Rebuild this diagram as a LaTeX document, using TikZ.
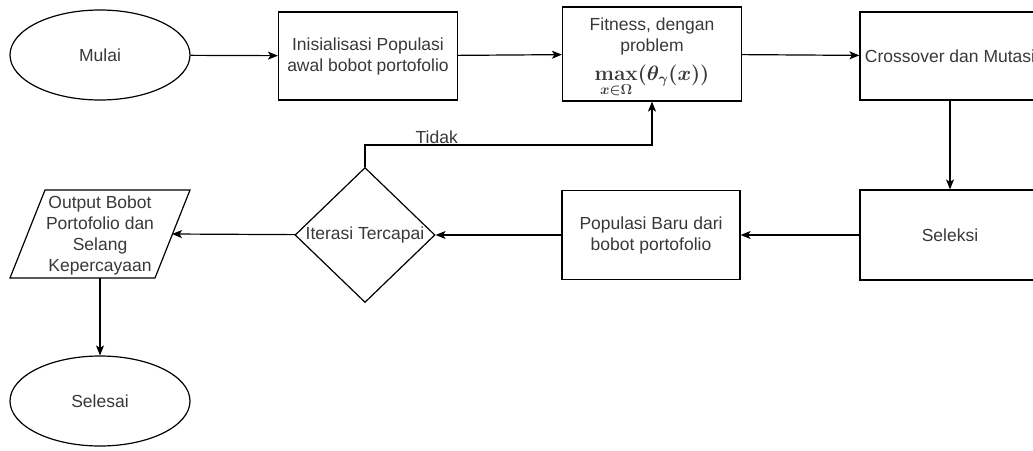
\documentclass[tikz,border=0pt]{standalone}
\usepackage{amsmath}
\usepackage[no-math]{fontspec}
\setmainfont{Liberation Sans}
\usetikzlibrary{shapes.geometric,arrows.meta}

\begin{document}
\begin{tikzpicture}[x=1pt, y=-1pt,
		every node/.style={font=\fontsize{17.5}{21}\selectfont, text=black!78},
		kotak/.style={rectangle, draw, line width=1.2pt, minimum width=179pt, minimum height=88pt, align=center, inner sep=0pt},
		elips/.style={ellipse, draw, line width=1.2pt, minimum width=180pt, minimum height=90pt, inner sep=0pt},
		panah/.style={line width=1.2pt, -{Stealth[length=10pt, width=8pt, inset=2.5pt]}}]
	\useasboundingbox (0, 0) rectangle (1033, 450);

	% ノード
	\node[elips] (mulai) at (100, 55) {Mulai};
	\node[kotak] (init) at (368, 56) {Inisialisasi Populasi\\awal bobot portofolio};
	\node[kotak, minimum height=94pt] (fitness) at (652, 54) {};
	\node[align=center, anchor=north, inner sep=0pt] (fittext) at (652, 18) {Fitness, dengan\\problem\\[8pt]{\fontsize{21}{24}\selectfont\boldmath$\max\limits_{x\in\Omega}(\theta_\gamma(x))$}};
	\node[kotak, minimum width=180pt] (cross) at (950, 56) {Crossover dan Mutasi};
	\node[kotak, minimum width=180pt, minimum height=90pt] (seleksi) at (950, 235) {Seleksi};
	\node[kotak, minimum width=178pt, minimum height=89pt] (popbaru) at (651, 235) {Populasi Baru dari\\bobot portofolio};
	\node[diamond, draw, line width=1.2pt, minimum width=140pt, minimum height=118pt, inner sep=0pt] (iterasi) at (365, 235) {Iterasi Tercapai};
	\node[align=center, inner sep=0pt] (output) at (100, 235) {Output Bobot\\Portofolio dan\\Selang\\Kepercayaan};
	\node[elips] (selesai) at (100, 401) {Selesai};

	% 平行四辺形
	\coordinate (outkanan) at (172, 234);
	\coordinate (outbawah) at (100, 278);
	\draw[line width=1.2pt] (45, 190) -- (190, 190) -- (155, 278) -- (10, 278) -- cycle;

	% 矢印
	\draw[panah] (mulai) -- (init);
	\draw[panah] (init) -- (fitness);
	\draw[panah] (fitness) -- (cross);
	\draw[panah] (cross) -- (seleksi);
	\draw[panah] (seleksi) -- (popbaru);
	\draw[panah] (popbaru) -- (iterasi);
	\draw[panah] (iterasi) -- (outkanan);
	\draw[panah] (outbawah) -- (selesai);
	\coordinate (belok) at (365, 145);
	\draw[panah] (iterasi.north) -- (belok) -| node[pos=0.125, above, inner sep=1pt] {Tidak} (fitness.south);
\end{tikzpicture}
\end{document}
